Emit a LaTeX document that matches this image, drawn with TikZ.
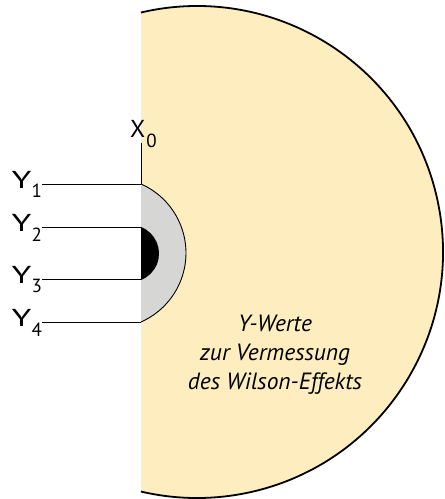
\documentclass[tikz,border=0pt]{standalone}
\usepackage{fontspec}
\setmainfont{PT Sans}
\definecolor{bigfill}{RGB}{254,238,191}
\definecolor{grayfill}{RGB}{214,215,213}
\tikzset{
  lbl/.style={inner sep=0pt, anchor=base west, font=\fontsize{24.5}{28}\selectfont},
  txt/.style={inner sep=0pt, anchor=base, font=\fontsize{23.5}{28}\selectfont\itshape},
  thin/.style={line width=0.9pt},
}
\newcommand{\wideY}{\scalebox{1.45}[1]{Y}}
\newcommand{\subdig}[1]{\raisebox{-9.5pt}{\fontsize{19}{20}\selectfont #1}}
\begin{document}
\begin{tikzpicture}[x=1pt,y=1pt]
\useasboundingbox (0,0) rectangle (445,499);
% big half disc
\fill[bigfill] (141,486.5) arc[start angle=103.16, end angle=-103.16, radius=246] -- cycle;
\draw[line width=1.8pt] (141,486.5) arc[start angle=103.16, end angle=-103.16, radius=246];
% gray shape
\fill[grayfill] (141,315) arc[start angle=66.2, end angle=-66.2, radius=75.4] -- cycle;
\draw[thin] (141,315) arc[start angle=66.2, end angle=-66.2, radius=75.4];
% black shape
\fill[black] (141,272) arc[start angle=68.4, end angle=-68.4, radius=28.5] -- cycle;
% points
\coordinate (p1) at (141,315);
\coordinate (p2) at (141,272);
\coordinate (p3) at (141,219.5);
\coordinate (p4) at (141,176.5);
\coordinate (x0) at (141,356);
\coordinate (q1) at (42,315);
\coordinate (q2) at (42,272);
\coordinate (q3) at (42,219.5);
\coordinate (q4) at (42,176.5);
\draw[thin] (q1) -- (p1);
\draw[thin] (q2) -- (p2);
\draw[thin] (q3) -- (p3);
\draw[thin] (q4) -- (p4);
\draw[thin] (p1) -- (x0);
% labels
\node[lbl] (y1) at (11.5,310.7) {\wideY\subdig{1}};
\node[lbl] (y2) at (11.5,267.3) {\wideY\subdig{2}};
\node[lbl] (y3) at (11.5,215.7) {\wideY\subdig{3}};
\node[lbl] (y4) at (11.5,172.3) {\wideY\subdig{4}};
\node[lbl] (xl) at (130,361) {X\hspace{1pt}\subdig{0}};
% text
\node[txt] (t1) at (275,167) {Y-Werte};
\node[txt] (t2) at (275,138) {zur Vermessung};
\node[txt] (t3) at (275,109) {des Wilson-Effekts};
\end{tikzpicture}
\end{document}
